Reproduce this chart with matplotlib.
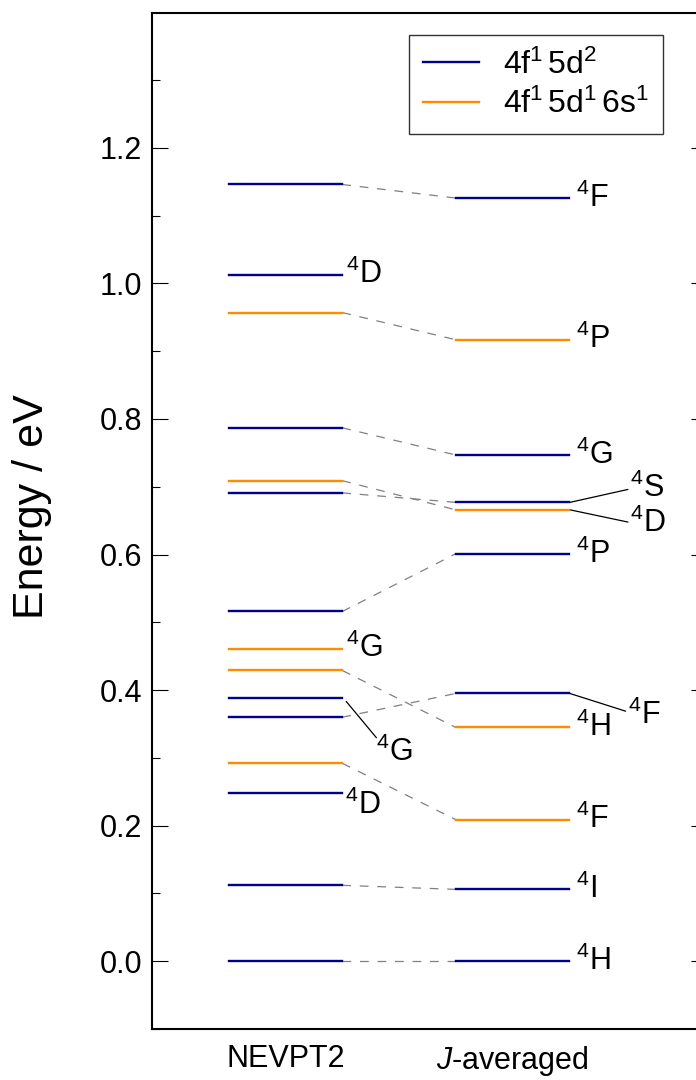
import matplotlib
matplotlib.use("Agg")
import matplotlib.pyplot as plt
from matplotlib.ticker import MultipleLocator

plt.rcParams['font.family'] = ['Liberation Sans', 'DejaVu Sans']
plt.rcParams['mathtext.fontset'] = 'custom'
plt.rcParams['mathtext.rm'] = 'Liberation Sans'
plt.rcParams['mathtext.it'] = 'Liberation Sans:italic'
plt.rcParams['mathtext.bf'] = 'Liberation Sans:bold'

# energies (eV); conf 0 = 4f1 5d2, 1 = 4f1 5d1 6s1
nevpt2_E = [1.146, 1.013, 0.957, 0.787, 0.709, 0.691, 0.516, 0.461,
            0.429, 0.388, 0.360, 0.292, 0.248, 0.112, 0.0]
nevpt2_conf = [0, 0, 1, 0, 1, 0, 0, 1, 1, 0, 0, 1, 0, 0, 0]

javg_E = [1.126, 0.917, 0.747, 0.677, 0.666, 0.601, 0.395, 0.345,
          0.209, 0.106, 0.0]
javg_conf = [0, 1, 0, 0, 1, 0, 0, 1, 1, 0, 0]
javg_term = ['F', 'P', 'G', 'S', 'D', 'P', 'F', 'H', 'F', 'I', 'H']

# (nevpt2 index, j-averaged index) joined by dashed lines
links = [(0, 0), (2, 1), (3, 2), (4, 4), (5, 3), (6, 5), (8, 7),
         (10, 6), (11, 8), (13, 9), (14, 10)]

# terms written next to unlinked NEVPT2 levels
nevpt2_terms = {1: 'D', 7: 'G', 9: 'G', 12: 'D'}

colors = ['#00008B', '#FF8C00']
conf_labels = [r'4f$^1\,$5d$^2$', r'4f$^1\,$5d$^1\,$6s$^1$']
columns = ['NEVPT2', '$J$-averaged']

fig = plt.figure(figsize=(6.96, 10.8), dpi=100)
ax = fig.add_axes([152/696, 51/1080, 555/696, 1016/1080])

hw = 0.25
for e, c in zip(nevpt2_E, nevpt2_conf):
    ax.plot([-hw, hw], [e, e], color=colors[c], lw=1.7, zorder=3)
for e, c in zip(javg_E, javg_conf):
    ax.plot([1-hw, 1+hw], [e, e], color=colors[c], lw=1.7, zorder=3)

for i, j in links:
    ax.plot([hw, 1-hw], [nevpt2_E[i], javg_E[j]], color='grey', lw=0.9,
            dashes=(7, 7), zorder=2)

fs = 22
# labels on the right column
for k, (e, t) in enumerate(zip(javg_E, javg_term)):
    lab = '$^4$' + t
    if t == 'S':
        ax.plot([1+hw+0.005, 1.51], [e, 0.696], color='k', lw=0.9)
        ax.text(1.52, 0.697, lab, fontsize=fs, va='center', ha='left')
    elif k == 4:
        ax.plot([1+hw+0.005, 1.51], [e, 0.648], color='k', lw=0.9)
        ax.text(1.52, 0.646, lab, fontsize=fs, va='center', ha='left')
    elif k == 6:
        ax.plot([1+hw+0.005, 1.50], [e, 0.369], color='k', lw=0.9)
        ax.text(1.51, 0.363, lab, fontsize=fs, va='center', ha='left')
    else:
        ax.text(1.28, e, lab, fontsize=fs, va='center', ha='left')

# labels on the left column
for i, t in nevpt2_terms.items():
    e = nevpt2_E[i]
    lab = '$^4$' + t
    if i == 9:
        ax.plot([0.268, 0.40], [e - 0.005, 0.330], color='k', lw=0.9)
        ax.text(0.40, 0.308, lab, fontsize=fs, va='center', ha='left')
    elif i == 12:
        ax.text(0.262, 0.230, lab, fontsize=fs, va='center', ha='left')
    else:
        ax.text(0.265, e, lab, fontsize=fs, va='center', ha='left')

for c in range(2):
    ax.plot([], [], color=colors[c], lw=1.7, label=conf_labels[c])

ax.set_xlim(-0.59, 1.86)
ax.set_ylim(-0.1, 1.399)
ax.set_xticks([0, 1])
ax.set_xticklabels(columns)
ax.yaxis.set_major_locator(MultipleLocator(0.2))
ax.yaxis.set_minor_locator(MultipleLocator(0.1))
ax.tick_params(axis='x', length=0, pad=11, labelsize=fs)
ax.tick_params(axis='y', which='major', direction='in', length=11.5,
               width=0.8, right=True, labelsize=fs, pad=7)
ax.tick_params(axis='y', which='minor', direction='in', length=6,
               width=0.8, right=True)
for s in ax.spines.values():
    s.set_linewidth(1.5)
ax.set_ylabel('Energy / eV', fontsize=31)
ax.yaxis.set_label_coords(-0.181, 0.514)

leg = ax.legend(loc='upper right', bbox_to_anchor=(663/696, 1-35/1080),
                bbox_transform=fig.transFigure, borderaxespad=0,
                fontsize=23, fancybox=False, edgecolor='k',
                handlelength=1.75, handletextpad=0.75, labelspacing=0.25,
                borderpad=0.45)
leg.get_frame().set_linewidth(1.0)

fig.savefig('out.png', dpi=100)
